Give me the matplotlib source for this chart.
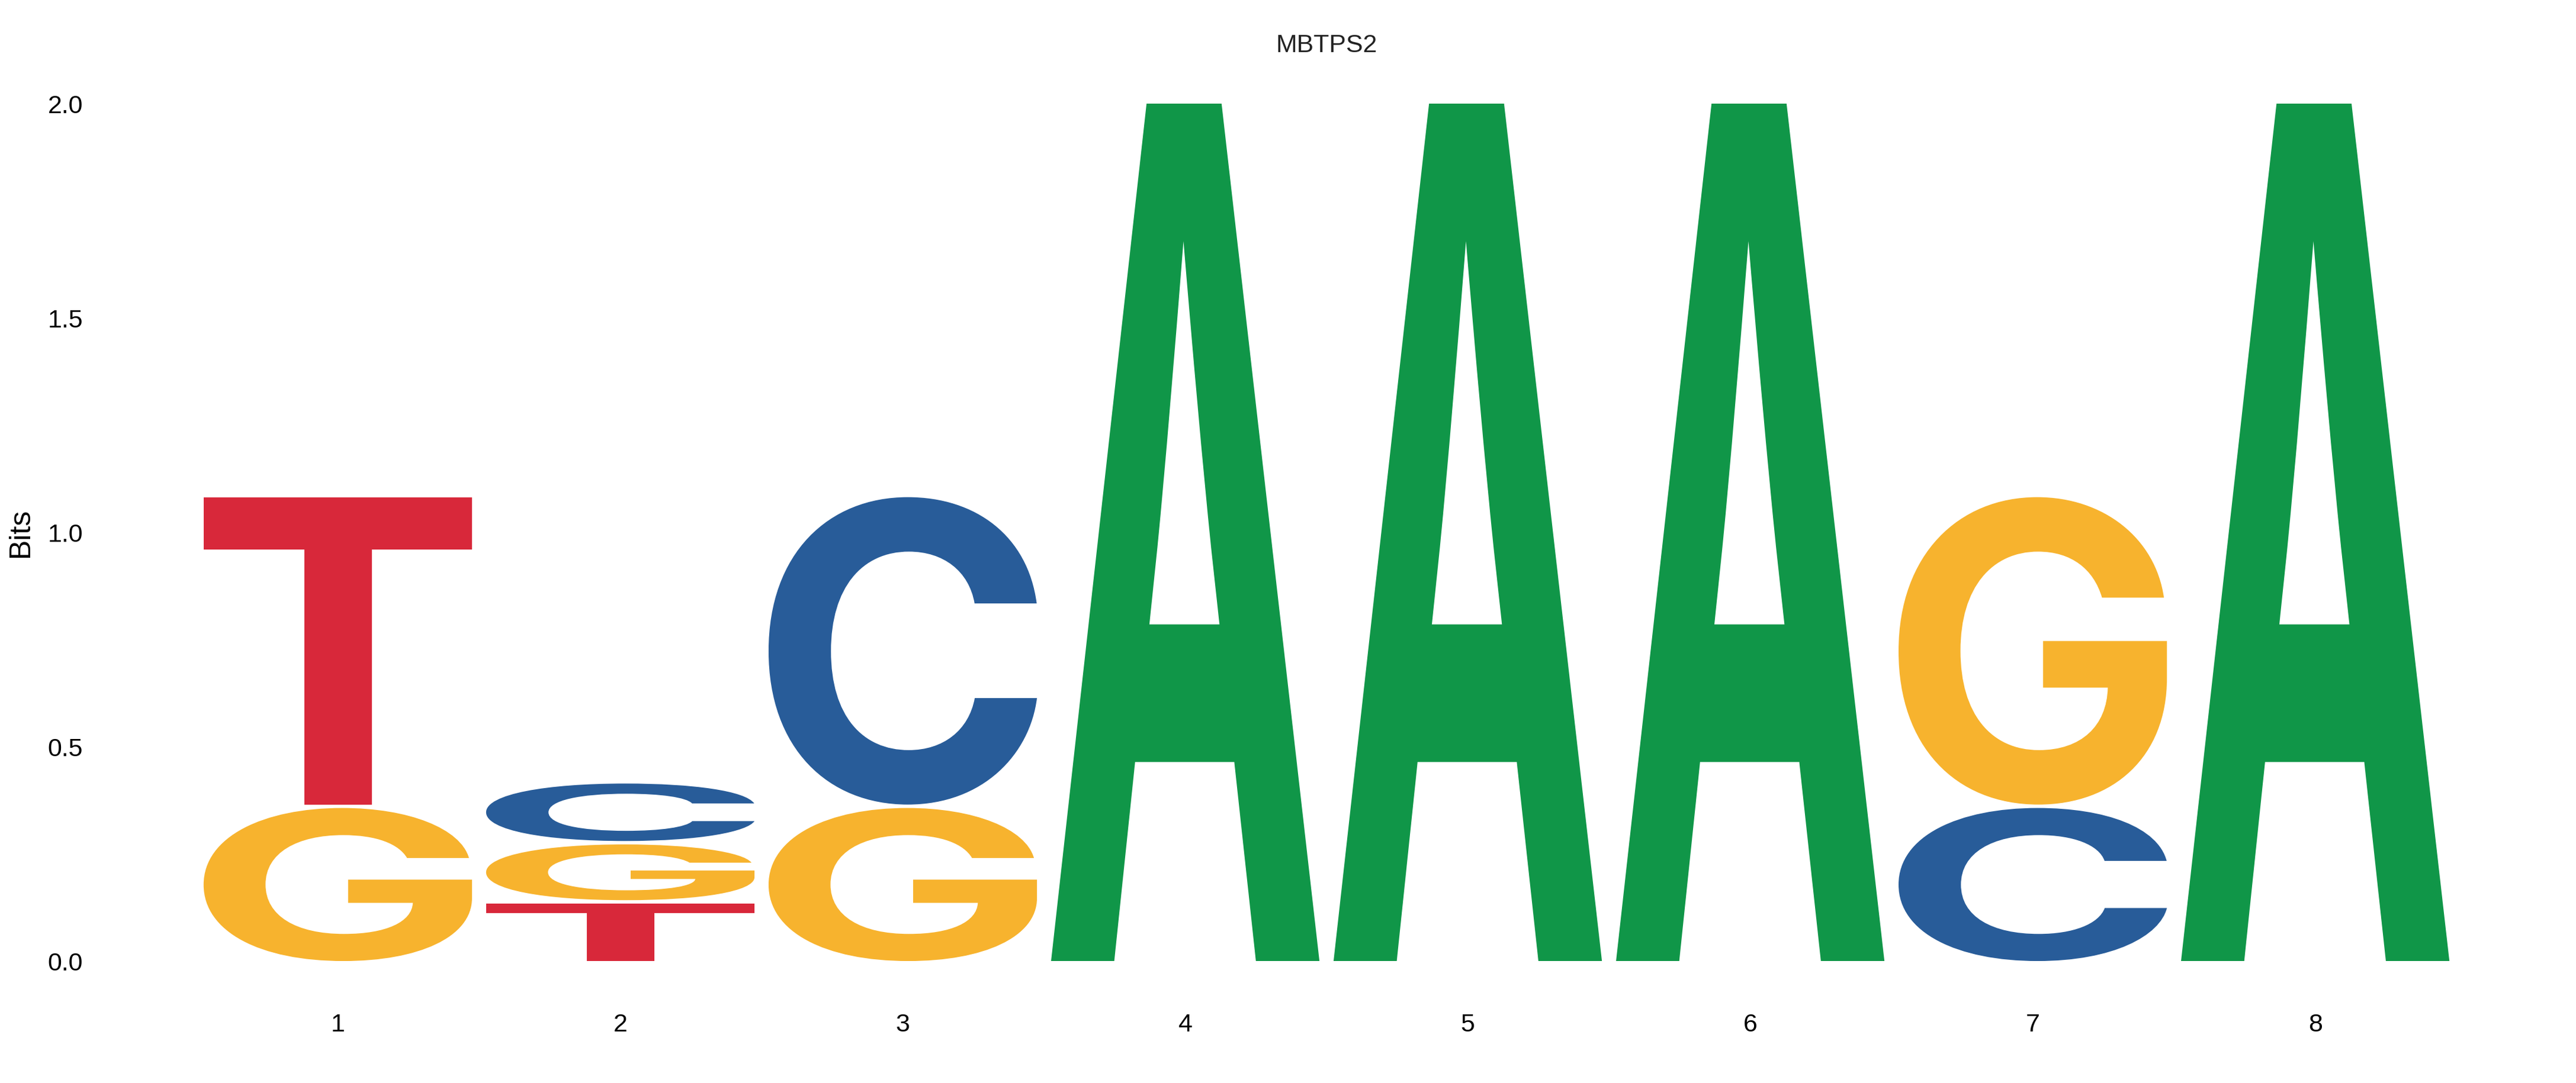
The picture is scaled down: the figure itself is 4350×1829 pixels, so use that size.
import matplotlib
matplotlib.use('Agg')
import matplotlib.pyplot as plt
from matplotlib.textpath import TextPath
from matplotlib.patches import PathPatch
from matplotlib.font_manager import FontProperties
from matplotlib.transforms import Affine2D

# information content (bits) per letter, per position
positions = [1, 2, 3, 4, 5, 6, 7, 8]
bits_A = [0.0, 0.0, 0.0, 2.0, 2.0, 2.0, 0.0, 2.0]
bits_C = [0.0, 0.138, 0.721, 0.0, 0.0, 0.0, 0.361, 0.0]
bits_G = [0.361, 0.138, 0.361, 0.0, 0.0, 0.0, 0.721, 0.0]
bits_T = [0.721, 0.138, 0.0, 0.0, 0.0, 0.0, 0.0, 0.0]

yticks = [0.0, 0.5, 1.0, 1.5, 2.0]
title = 'MBTPS2'

colors = {'A': '#109648', 'C': '#285C99', 'G': '#F7B32E', 'T': '#D8283A'}
glyph_font = FontProperties(family='Inter', weight='bold')
width = 0.95
gap = 0.004

plt.rcParams['font.family'] = ['Liberation Sans', 'DejaVu Sans']

fig = plt.figure(figsize=(14.5, 6.097), dpi=300)
ax = fig.add_axes([0.0763, 0.1126, 0.8773, 0.7917])


def draw_letter(ax, letter, x, y0, h, color):
    tp = TextPath((0, 0), letter, size=1, prop=glyph_font)
    bb = tp.get_extents()
    tr = (Affine2D().translate(-bb.x0, -bb.y0)
          .scale(width / bb.width, h / bb.height)
          .translate(x - width / 2, y0))
    path = tr.transform_path(tp)
    ax.add_patch(PathPatch(path, facecolor=color, edgecolor='none', lw=0))


table = {'A': bits_A, 'C': bits_C, 'G': bits_G, 'T': bits_T}
for i, pos in enumerate(positions):
    stack = [(table[l][i], l) for l in 'ACGT' if table[l][i] > 0]
    stack.sort(key=lambda s: (s[0], -ord(s[1])))
    floor = 0.0
    for k, (h, l) in enumerate(stack):
        lo = floor + (gap if k > 0 else 0)
        hi = floor + h - (gap if k < len(stack) - 1 else 0)
        draw_letter(ax, l, pos, lo, hi - lo, colors[l])
        floor += h

ax.set_xlim(0.5, 8.5)
ax.set_ylim(0, 2.0)
for s in ax.spines.values():
    s.set_visible(False)
ax.set_xticks(positions)
ax.set_xticklabels([str(p) for p in positions])
ax.set_yticks(yticks)
ax.set_yticklabels(['%.1f' % v for v in yticks])
ax.tick_params(axis='y', length=0, pad=46, labelsize=10.3, labelcolor='black')
ax.tick_params(axis='x', length=0, pad=21, labelsize=10.3, labelcolor='black')
ax.set_ylabel('Bits', fontsize=12, labelpad=5.5)
ax.set_title(title, fontsize=10.3, color='#222222', pad=21)

fig.savefig('out.png', dpi=300, facecolor='white')
